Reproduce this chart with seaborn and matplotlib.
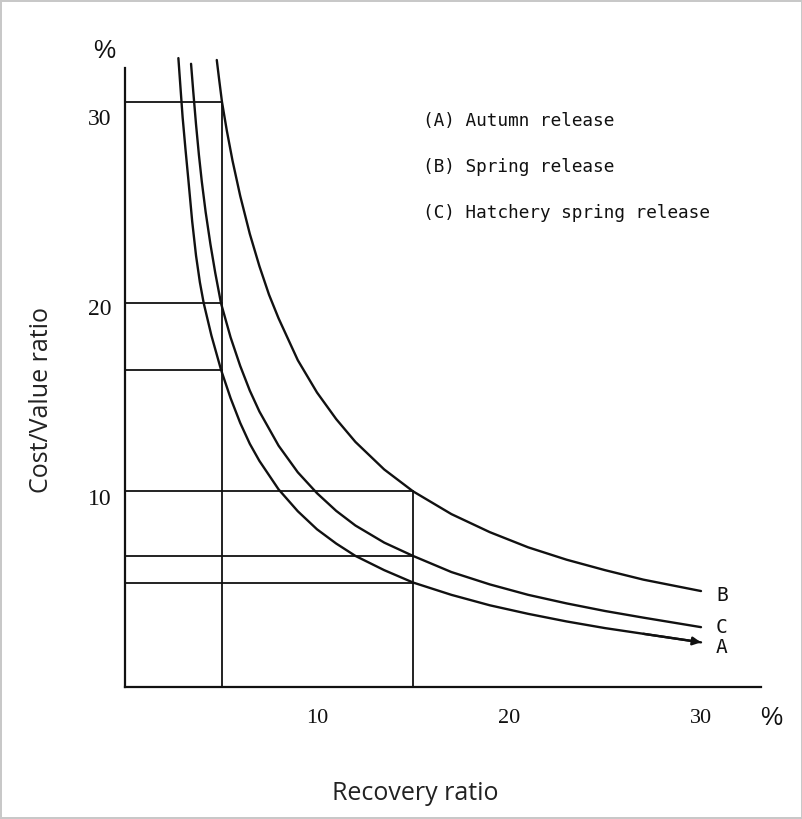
import matplotlib
matplotlib.use("Agg")
import matplotlib.pyplot as plt
import seaborn as sns
import pandas as pd

# ---- data ----
a_x = [2.78, 2.9, 3.0, 3.15, 3.3, 3.5, 3.7, 3.9, 4.1, 4.5, 5.0, 5.5, 6.0, 6.5, 7.0, 8.0, 9.0,
       10, 11, 12, 13.5, 15, 17, 19, 21, 23, 25, 27, 30]
a_y = [33.1, 31.4, 30.0, 28.3, 26.7, 24.5, 22.7, 21.3, 20.2, 18.5, 16.7, 15.2, 13.9, 12.8, 11.9,
       10.4, 9.25, 8.3, 7.55, 6.9, 6.15, 5.5, 4.85, 4.3, 3.85, 3.45, 3.1, 2.8, 2.35]
c_x = [3.44, 3.55, 3.7, 3.85, 4.0, 4.2, 4.45, 4.7, 5.0, 5.5, 6.0, 6.5, 7.0, 8.0, 9.0,
       10, 11, 12, 13.5, 15, 17, 19, 21, 23, 25, 27, 30]
c_y = [32.8, 31.4, 29.6, 28.0, 26.6, 25.0, 23.3, 21.8, 20.2, 18.4, 16.9, 15.6, 14.5, 12.7, 11.3,
       10.2, 9.27, 8.5, 7.6, 6.9, 6.05, 5.4, 4.85, 4.4, 4.0, 3.65, 3.15]
b_x = [4.78, 4.9, 5.05, 5.3, 5.6, 6.0, 6.5, 7.0, 7.5, 8.0, 9.0, 10, 11, 12, 13.5, 15,
       17, 19, 21, 23, 25, 27, 30]
b_y = [33.0, 32.0, 30.8, 29.3, 27.7, 25.85, 23.85, 22.15, 20.65, 19.4, 17.2, 15.5, 14.1, 12.9,
       11.45, 10.3, 9.1, 8.15, 7.35, 6.7, 6.15, 5.65, 5.05]

guide_x = [5.05, 15]                                   # recovery ratios marked by vertical lines
guide_vals = [[30.8, 20.2, 16.7], [10.3, 6.9, 5.5]]    # B, C, A values at those ratios

curve_names = ["A", "B", "C"]
legend_lines = ["(A) Autumn release", "(B) Spring release", "(C) Hatchery spring release"]
y_ticks = [5, 10, 20, 30]
y_ticklabels = ["", "10", "20", "30"]
x_ticks = [0.6, 10, 20, 25, 30]
x_ticklabels = ["", "10", "20", "", "30"]

df = pd.concat([
    pd.DataFrame({"x": a_x, "y": a_y, "curve": "A"}),
    pd.DataFrame({"x": b_x, "y": b_y, "curve": "B"}),
    pd.DataFrame({"x": c_x, "y": c_y, "curve": "C"}),
])

sns.set_style("white")
plt.rcParams["font.family"] = ["DejaVu Sans"]

W, H = 803, 819
fig = plt.figure(figsize=(W / 100, H / 100), dpi=100)
fig.patch.set_edgecolor("#c8c8c8")
fig.patch.set_linewidth(1.5)

x0, xs = 125, 19.2
y0, ys = 687, 19.0
xmax, ymax = 33.5, 33.6
ax = fig.add_axes([x0 / W, (H - y0) / H, xmax * xs / W, ymax * ys / H])

ink = "#111111"
sns.lineplot(data=df, x="x", y="y", units="curve", estimator=None, sort=False,
             color=ink, lw=1.7, ax=ax, legend=False)

# arrow head at end of A
ax.annotate("", xy=(a_x[-1], a_y[-1]), xytext=(a_x[-2], a_y[-2]),
            arrowprops=dict(arrowstyle="-|>", color=ink, lw=1.7,
                            mutation_scale=12, shrinkA=0, shrinkB=0))

# guide lines
for gx, vals in zip(guide_x, guide_vals):
    ax.plot([gx, gx], [0, max(vals)], color=ink, lw=1.3)
    for v in vals:
        ax.plot([0, gx], [v, v], color=ink, lw=1.3)

ax.set_xlim(0, xmax)
ax.set_ylim(0, ymax)
for s in ["top", "right"]:
    ax.spines[s].set_visible(False)
ax.spines["left"].set_bounds(0, 32.6)
ax.spines["bottom"].set_bounds(0, 33.1)
for s in ["left", "bottom"]:
    ax.spines[s].set_linewidth(1.6)
    ax.spines[s].set_color(ink)

ax.set_yticks(y_ticks)
ax.set_yticklabels(y_ticklabels, fontfamily="Liberation Serif", fontsize=17)
ax.set_xticks(x_ticks)
ax.set_xticklabels(x_ticklabels, fontfamily="Liberation Serif", fontsize=16)
ax.tick_params(axis="both", direction="in", length=6, width=1.3, color=ink, labelcolor=ink)
ax.tick_params(axis="y", pad=10)
ax.tick_params(axis="x", pad=16)
ax.set_xlabel("")
ax.set_ylabel("")

# curve end labels
ends = {"A": (a_x[-1], a_y[-1], -4), "B": (b_x[-1], b_y[-1], -3), "C": (c_x[-1], c_y[-1], 0)}
for name in curve_names:
    ex, ey, dy = ends[name]
    ax.annotate(name, xy=(ex, ey), xytext=(15, dy), textcoords="offset points",
                ha="center", va="center", fontfamily="DejaVu Sans Mono", fontsize=14, color=ink)

# legend text block
for i, line in enumerate(legend_lines):
    fig.text(423 / W, 1 - (121 + i * 46) / H, line, ha="left", va="center",
             fontfamily="DejaVu Sans Mono", fontsize=12.8, color=ink)

# percent signs
fig.text(104 / W, 1 - 51 / H, "%", ha="center", va="center",
         fontfamily="Liberation Sans", fontsize=18, color=ink)
fig.text(771 / W, 1 - 718 / H, "%", ha="center", va="center",
         fontfamily="Liberation Sans", fontsize=18, color=ink)

# axis titles
fig.text(42 / W, 1 - 400 / H, "Cost/Value ratio", rotation=90, ha="center", va="center",
         fontfamily="Open Sans", fontsize=18, color="#222222")
fig.text(415 / W, 1 - 793 / H, "Recovery ratio", ha="center", va="center",
         fontfamily="Open Sans", fontsize=18, color="#222222")

fig.savefig("out.png", dpi=100, facecolor="white", edgecolor=fig.get_edgecolor())
